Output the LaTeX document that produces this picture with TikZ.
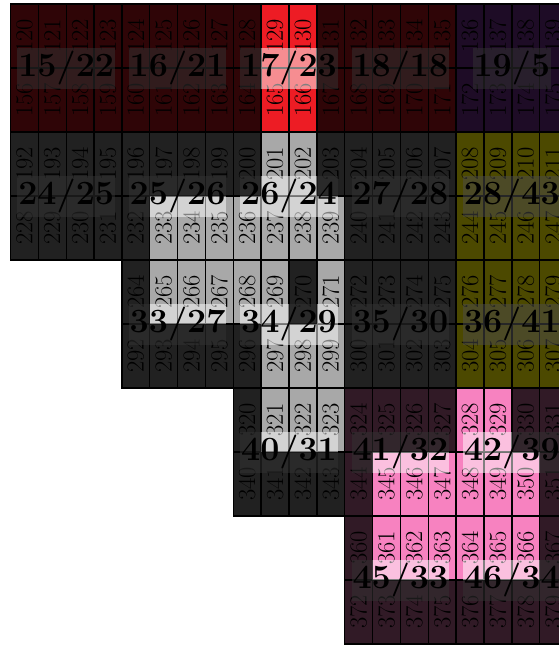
\documentclass[tikz,border=0pt]{standalone}
\usepackage{tikz}
\usepackage{xcolor}
\definecolor{tileRed}{RGB}{237,28,36}
\definecolor{tileGray}{RGB}{168,168,168}
\definecolor{tilePink}{RGB}{247,130,192}
\definecolor{tilePlum}{RGB}{150,62,190}
\definecolor{tileOlive}{RGB}{255,245,0}

\begin{document}
\begin{tikzpicture}[
  x=27.85pt,y=-64pt,
  cellnum/.style={rotate=90,inner sep=0pt,font=\fontsize{24.5}{24.5}\selectfont},
  gridline/.style={draw=black,line width=1.4pt},
  tag/.style={fill=white,fill opacity=0.5,text opacity=1,inner xsep=1pt,inner ysep=3.5pt,
    font=\fontsize{34}{34}\selectfont\bfseries},
  dimmer/.style={fill=black,fill opacity=0.8}
]
  \clip (-10.5pt,4pt) rectangle (548.5pt,-642pt);

  % tile colours
  \fill[tileRed] (0,0) rectangle (16,2);
  \fill[tilePlum] (16,0) rectangle (20,2);
  \fill[tileGray] (0,2) -- (16,2) -- (16,6) -- (12,6) -- (12,8) -- (8,8) -- (8,6) -- (4,6) -- (4,4) -- (0,4) -- cycle;
  \fill[tileOlive] (16,2) rectangle (20,6);
  \fill[tilePink] (12,6) rectangle (20,10);

  % cell numbers: row / first column / first number
  \foreach \r/\s/\n in {0/0/120,1/0/156,2/0/192,3/0/228,4/4/264,5/4/292,6/8/320,7/8/340,8/12/360,9/12/372}{
    \foreach \c in {\s,...,19}{
      \pgfmathtruncatemacro\num{\n+\c-\s}
      \node[cellnum] (n\num) at (\c+0.5,\r+0.5) {\num};
      \draw[gridline] (\c,\r) rectangle ++(1,1);
    }
  }

  % tile labels
  \foreach \c/\r/\a/\b in {2/1/15/22,6/1/16/21,10/1/17/23,14/1/18/18,18/1/19/5,
      2/3/24/25,6/3/25/26,10/3/26/24,14/3/27/28,18/3/28/43,
      6/5/33/27,10/5/34/29,14/5/35/30,18/5/36/41,
      10/7/40/31,14/7/41/32,18/7/42/39,
      14/9/45/33,18/9/46/34}
    \node[tag] (t\a) at (\c,\r) {\a/\b};

  % dim everything but the highlighted cells
  \fill[dimmer,even odd rule] (0,0) rectangle (16,2) (9,0) rectangle (11,2);
  \fill[dimmer] (16,0) rectangle (20,2);
  \fill[dimmer,even odd rule] (0,2) -- (16,2) -- (16,6) -- (12,6) -- (12,8) -- (8,8) -- (8,6) -- (4,6) -- (4,4) -- (0,4) -- cycle
    (9,2) rectangle (11,3) (5,3) rectangle (12,4) (5,4) rectangle (10,5) (11,4) rectangle (12,5) (9,5) rectangle (12,7);
  \fill[dimmer,fill opacity=0.7] (16,2) rectangle (20,6);
  \fill[dimmer,even odd rule] (12,6) rectangle (20,10) (16,6) rectangle (18,7) (13,7) rectangle (19,9);
\end{tikzpicture}
\end{document}
